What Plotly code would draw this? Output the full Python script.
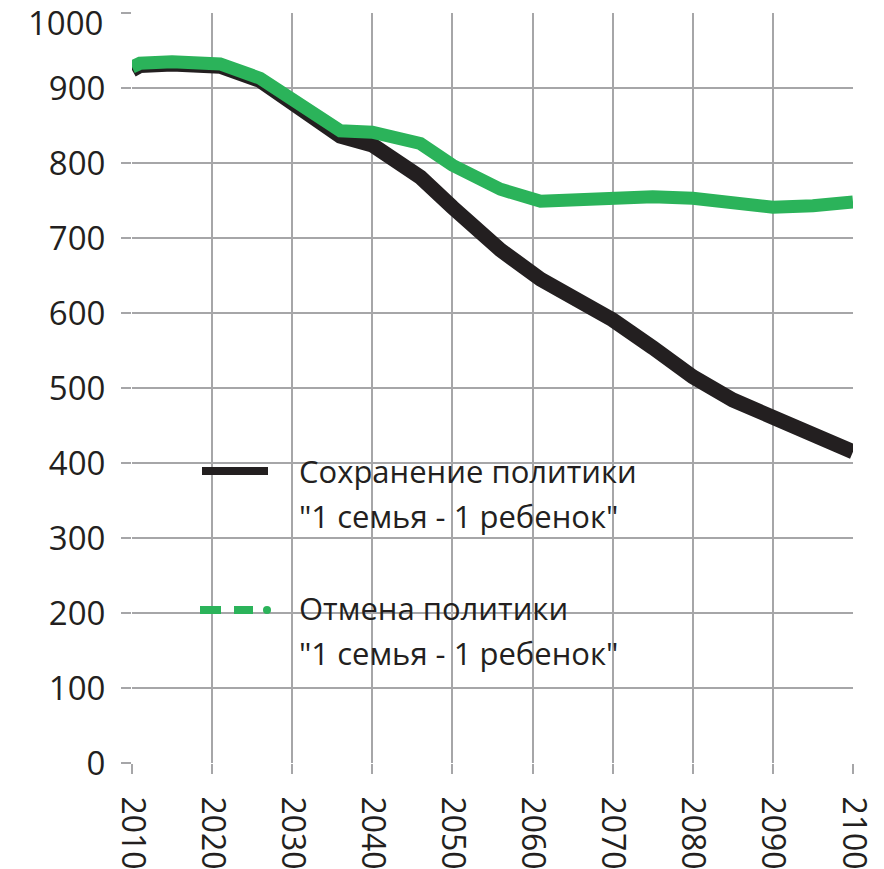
import plotly.graph_objects as go

years = [2010, 2011, 2015, 2021, 2026, 2030, 2036, 2040, 2046, 2050,
         2056, 2061, 2066, 2070, 2075, 2080, 2085, 2090, 2095, 2100]
keep_policy = [924, 930, 932, 929, 910, 881, 836, 824, 781, 741,
               684, 645, 615, 591, 554, 515, 484, 461, 438, 415]
cancel_policy = [928, 933, 935, 932, 913, 884, 843, 841, 826, 797,
                 765, 749, 751, 755, 755, 753, 746, 741, 743, 748]

x_ticks = list(range(2010, 2101, 10))
y_ticks = list(range(0, 1001, 100))
y_ticktext = [str(v) for v in y_ticks[:-1]] + [""]
top_label = str(y_ticks[-1])

legend_line1 = ["Сохранение политики", "\"1 семья - 1 ребенок\""]
legend_line2 = ["Отмена политики", "\"1 семья - 1 ребенок\""]

BLACK = "#231f20"
GREEN = "#2bb35a"
GRID = "#a6a6a8"
FONT = "Open Sans"

W, H = 884, 869
L, R, T, B = 132, 31, 13, 106
PW, PH = W - L - R, H - T - B


def px(x):
    return (x - L) / PW


def py(y):
    return (H - B - y) / PH


fig = go.Figure()
fig.add_trace(go.Scatter(x=years, y=keep_policy, mode="lines",
                         line=dict(color=BLACK, width=15), showlegend=False))
fig.add_trace(go.Scatter(x=years, y=cancel_policy, mode="lines",
                         line=dict(color=GREEN, width=13), showlegend=False))

shapes = [
    # legend background box
    dict(type="rect", xref="paper", yref="paper", x0=px(157), x1=px(679),
         y0=py(701), y1=py(423), fillcolor="white", line=dict(width=0),
         layer="between"),
    # black legend sample
    dict(type="line", xref="paper", yref="paper", x0=px(202), x1=px(268),
         y0=py(471), y1=py(471), line=dict(color=BLACK, width=8), layer="above"),
    # green dashed legend sample
    dict(type="line", xref="paper", yref="paper", x0=px(200), x1=px(221),
         y0=py(610), y1=py(610), line=dict(color=GREEN, width=8), layer="above"),
    dict(type="line", xref="paper", yref="paper", x0=px(234), x1=px(253),
         y0=py(610), y1=py(610), line=dict(color=GREEN, width=8), layer="above"),
    dict(type="circle", xref="paper", yref="paper", x0=px(263), x1=px(271),
         y0=py(614), y1=py(606), fillcolor=GREEN, line=dict(width=0), layer="above"),
]

annotations = []
for text, yy in zip(legend_line1 + legend_line2, [471, 516, 608, 653]):
    annotations.append(dict(text=text, xref="paper", yref="paper",
                            x=px(297), y=py(yy), xanchor="left", yanchor="middle",
                            showarrow=False,
                            font=dict(family=FONT, size=31, color=BLACK)))
# top y tick label, nudged down so it stays inside the image
annotations.append(dict(text=top_label, xref="paper", yref="paper",
                        x=px(105), y=py(22), xanchor="right", yanchor="middle",
                        showarrow=False,
                        font=dict(family=FONT, size=33, color=BLACK)))

fig.update_layout(
    width=W, height=H,
    margin=dict(l=L, r=R, t=T, b=B, pad=0, autoexpand=False),
    paper_bgcolor="white", plot_bgcolor="white",
    shapes=shapes, annotations=annotations,
    font=dict(family=FONT, color=BLACK),
)
fig.update_xaxes(range=[2010, 2100], tickvals=x_ticks, ticktext=[str(v) for v in x_ticks],
                 tickangle=90, ticks="outside", ticklen=10, tickcolor=GRID, tickwidth=2,
                 showgrid=True, gridcolor=GRID, gridwidth=2, zeroline=False,
                 showline=False, tickfont=dict(family=FONT, size=32, color=BLACK),
                 ticklabelstandoff=16, automargin=False, ticklabeloverflow="allow")
fig.update_yaxes(range=[0, 1000], tickvals=y_ticks, ticktext=y_ticktext,
                 ticks="outside", ticklen=10,
                 tickcolor=GRID, tickwidth=2, showgrid=True, gridcolor=GRID, gridwidth=2,
                 zeroline=False, showline=False,
                 tickfont=dict(family=FONT, size=33, color=BLACK),
                 ticklabelstandoff=9, automargin=False, ticklabeloverflow="allow")

fig.write_html("out.html", config=dict(displayModeBar=False),
               post_script="document.body.style.margin='0';document.body.style.overflow='hidden';")
